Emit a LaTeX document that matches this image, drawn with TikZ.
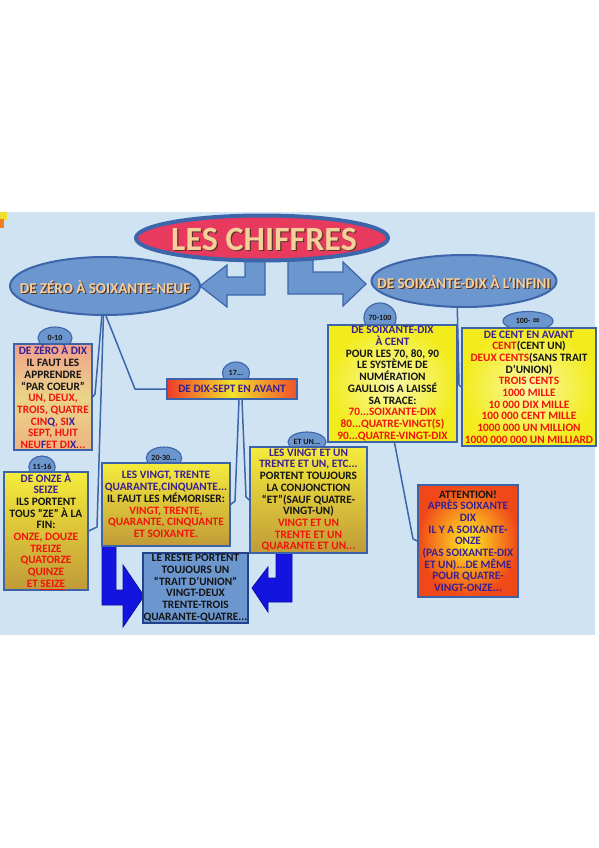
\documentclass[tikz,border=0pt]{standalone}
\usepackage{fontspec}
\setmainfont{Carlito}
\newfontfamily\symfont{DejaVu Sans}
\usetikzlibrary{shapes.geometric}
\definecolor{bgblue}{HTML}{CFE3F3}
\definecolor{ellfill}{HTML}{6B96CE}
\definecolor{ellline}{HTML}{3D65AA}
\definecolor{titlered}{HTML}{E8395E}
\definecolor{beige}{HTML}{F4D09A}
\definecolor{shadowbr}{HTML}{5A3424}
\definecolor{pur}{HTML}{3A2092}
\definecolor{redt}{HTML}{F0140C}
\definecolor{blk}{HTML}{141414}
\definecolor{arrblue}{HTML}{1414E0}
\definecolor{arrline}{HTML}{0C0CA8}
\definecolor{boxline}{HTML}{3D64A8}
\definecolor{cyel}{HTML}{F2E030}
\definecolor{corg}{HTML}{F08020}
\definecolor{aTop}{HTML}{F0A08C}
\definecolor{aMid}{HTML}{EAD488}
\definecolor{aBot}{HTML}{EEB482}
\definecolor{yTop}{HTML}{F5EC3C}
\definecolor{yBot}{HTML}{C09A38}
\definecolor{cLeft}{HTML}{F03C28}
\definecolor{cMid}{HTML}{F2E22A}
\definecolor{cRight}{HTML}{F0502A}
\definecolor{fIn}{HTML}{FAF8A8}
\definecolor{fOut}{HTML}{F2EC1C}
\definecolor{hIn}{HTML}{FFEC22}
\definecolor{hOut}{HTML}{F04818}
\definecolor{iLine}{HTML}{24428A}
\newcommand\cpu[1]{\textcolor{pur}{#1}}
\newcommand\cre[1]{\textcolor{redt}{#1}}
\tikzset{
  boxtext/.style={font=\fontsize{11.3}{11.7}\selectfont\bfseries, text=blk, align=center, inner sep=0pt},
  infobox/.style={boxtext, rectangle, draw=boxline, line width=1.4pt},
  tab/.style={ellipse, fill=ellfill, draw=ellline, line width=1.1pt, inner sep=0pt,
     font=\fontsize{8}{8}\selectfont\bfseries, text=blk},
  bigell/.style={ellipse, fill=ellfill, draw=ellline, line width=2pt, inner sep=0pt},
  conn/.style={draw=ellline, line width=1.5pt, line join=round},
  greyarrow/.style={fill=ellfill, draw=ellline, line width=1.2pt, line join=miter},
  bluearrow/.style={fill=arrblue, draw=arrline, line width=0.8pt},
  ellshadow/.style={font=\fontsize{15}{15}\selectfont\bfseries, text=shadowbr, inner sep=0pt},
  elltext/.style={font=\fontsize{15}{15}\selectfont\bfseries, text=beige, inner sep=0pt}
}
\begin{document}
\begin{tikzpicture}[x=1pt,y=-1pt]
\useasboundingbox (0,0) rectangle (599,848);
\fill[white] (0,0) rectangle (599,848);
\fill[bgblue] (0,212) rectangle (595,635);
\fill[cyel] (0,212) rectangle (7,220);
\fill[corg] (0,219) rectangle (4,228);

% grey-blue arrows from the title
\draw[greyarrow] (245,250) -- (265,250) -- (265,295) -- (227,295) -- (227,307) -- (200,286) -- (227,265) -- (227,277) -- (245,277) -- cycle;
\draw[greyarrow] (288,250) -- (313,250) -- (313,272) -- (343,272) -- (343,262) -- (366,284) -- (343,306) -- (343,294) -- (288,294) -- cycle;

% title
\node[ellipse, fill=titlered, draw=ellline, line width=4pt, minimum width=252pt, minimum height=45pt, inner sep=0pt] (title) at (262,238) {};
\node[font=\fontsize{34}{34}\selectfont\bfseries, text=shadowbr, inner sep=0pt] at (265.2,240.2) {LES CHIFFRES};
\node[font=\fontsize{34}{34}\selectfont\bfseries, text=beige, inner sep=0pt] (titletext) at (264,239) {LES CHIFFRES};

% big ellipses
\node[bigell, minimum width=190pt, minimum height=58pt] (lell) at (105,286) {};
\node[ellshadow] at (106.2,288.2) {DE ZÉRO À SOIXANTE-NEUF};
\node[elltext] (lelltext) at (105,287) {DE ZÉRO À SOIXANTE-NEUF};
\node[bigell, minimum width=185pt, minimum height=52pt] (rell) at (464,281) {};
\node[ellshadow] at (465.2,283.2) {DE SOIXANTE-DIX À L’INFINI};
\node[elltext] (relltext) at (464,282) {DE SOIXANTE-DIX À L’INFINI};

% tabs
\node[tab, minimum width=34pt, minimum height=22pt] (t010) at (55,338) {0-10};
\node[tab, minimum width=26pt, minimum height=22pt] (t1116) at (42,467) {11-16};
\node[tab, minimum width=27pt, minimum height=22pt] (t17) at (236,373) {17...};
\node[tab, minimum width=34pt, minimum height=22pt] (t2030) at (164,458) {20-30...};
\node[tab, minimum width=38pt, minimum height=20pt] (tetun) at (307,442) {ET UN...};
\node[tab, minimum width=32pt, minimum height=30pt] (t70) at (380,318) {70-100};
\node[tab, minimum width=50pt, minimum height=19pt] (t100) at (528,321) {100- {\symfont\fontsize{9.5}{9.5}\selectfont ∞}};

% blue arrows
\draw[bluearrow] (102,540) -- (116,540) -- (116,590) -- (123,590) -- (123,565) -- (144,596) -- (123,627) -- (123,605) -- (102,605) -- cycle;
\draw[bluearrow] (276,548) -- (292,548) -- (292,602) -- (268,602) -- (268,612) -- (252,588) -- (268,567) -- (268,578) -- (276,578) -- cycle;

% boxes
\node[infobox, top color=aTop, bottom color=aBot, middle color=aMid, minimum width=78pt, minimum height=106pt] (boxA) at (53,397)
 {\cpu{DE ZÉRO À DIX}\\ IL FAUT LES\\ APPRENDRE\\ “PAR COEUR”\\ \cre{UN, DEUX,}\\ \cre{TROIS, QUATRE}\\ \cre{CIN}\cpu{Q}\cre{, SI}\cpu{X}\\ \cre{SEPT, HUIT}\\ \cre{NEU}\cpu{F}\cre{ ET DI}\cpu{X}\cre{...}};
\node[infobox, top color=yTop, bottom color=yBot, minimum width=84pt, minimum height=118pt] (boxB) at (46,531)
 {\cpu{DE ONZE À}\\ \cpu{SEIZE}\\ ILS PORTENT\\ TOUS “ZE” À LA\\ FIN:\\ \cre{ONZE, DOUZE}\\ \cre{TREIZE}\\ \cre{QUATORZE}\\ \cre{QUINZE}\\ \cre{ET \underline{SEIZE}}};
\node[infobox, left color=cLeft, right color=cRight, middle color=cMid, minimum width=130pt, minimum height=20pt] (boxC) at (232,389)
 {\cpu{DE DIX-SEPT EN AVANT}};
\node[infobox, top color=yTop, bottom color=yBot, minimum width=128pt, minimum height=83pt] (boxD) at (166,504.5)
 {\cpu{LES VINGT, TRENTE}\\ \cpu{QUARANTE,CINQUANTE...}\\ IL FAUT LES MÉMORISER:\\ \cre{VINGT, TRENTE,}\\ \cre{QUARANTE, CINQUANTE}\\ \cre{ET SOIXANTE.}};
\node[infobox, top color=yTop, bottom color=yBot, minimum width=117pt, minimum height=106pt] (boxE) at (308.5,500)
 {\cpu{LES VINGT ET UN}\\ \cpu{TRENTE ET UN, ETC...}\\ PORTENT TOUJOURS\\ LA CONJONCTION\\ “ET”(SAUF QUATRE-\\ VINGT-UN)\\ \cre{VINGT ET UN}\\ \cre{TRENTE ET UN}\\ \cre{QUARANTE ET UN...}};
\node[infobox, inner color=fIn, outer color=fOut, minimum width=129pt, minimum height=117pt] (boxF) at (392.5,383.5)
 {\cpu{DE SOIXANTE-DIX}\\ \cpu{À CENT}\\ POUR LES 70, 80, 90\\ LE SYSTÈME DE\\ NUMÉRATION\\ GAULLOIS A LAISSÉ\\ SA TRACE:\\ \cre{70...SOIXANTE-DIX}\\ \cre{80...QUATRE-VINGT(S)}\\ \cre{90...QUATRE-VINGT-DIX}};
\node[infobox, inner color=fIn, outer color=fOut, minimum width=134pt, minimum height=118pt] (boxG) at (529,387)
 {\cpu{DE CENT EN AVANT}\\ \cre{CENT}(CENT UN)\\ \cre{DEUX CENTS}(SANS TRAIT\\ D’UNION)\\ \cre{TROIS CENTS}\\ \cre{1000 MILLE}\\ \cre{10 000 DIX MILLE}\\ \cre{100 000 CENT MILLE}\\ \cre{1000 000 UN MILLION}\\ \cre{1000 000 000 UN MILLIARD}};
\node[infobox, inner color=hIn, outer color=hOut, minimum width=100pt, minimum height=112pt] (boxH) at (468,541)
 {ATTENTION!\\ \cpu{APRÈS SOIXANTE}\\ \cpu{DIX}\\ \cpu{IL Y A SOIXANTE-}\\ \cpu{ONZE}\\ \cpu{(PAS SOIXANTE-DIX}\\ \cpu{ET UN)...DE MÊME}\\ \cpu{POUR QUATRE-}\\ \cpu{VINGT-ONZE...}};
\node[infobox, fill=ellfill, draw=iLine, minimum width=105pt, minimum height=70pt] (boxI) at (195.5,588)
 {LE RESTE PORTENT\\ TOUJOURS UN\\ “TRAIT D’UNION”\\ VINGT-DEUX\\ TRENTE-TROIS\\ QUARANTE-QUATRE...};

% connector bend points
\coordinate (pa) at (95,394);
\coordinate (pb) at (97,527);
\coordinate (pc) at (135,389);
\coordinate (pd) at (235,501);
\coordinate (pe) at (246,497);
\coordinate (pg) at (459,385);
\coordinate (ph) at (413,539);

% connectors
\draw[conn] (lell.264) -- (pa) -- (boxA.east);
\draw[conn] (lell.267) -- (pb) -- (boxB.east);
\draw[conn] (lell.272) -- (pc) -- (boxC.west);
\draw[conn] ([xshift=7pt]boxC.south) -- (pd) -- (boxD.east);
\draw[conn] ([xshift=10pt]boxC.south) -- (pe) -- (boxE.west);
\draw[conn] (rell.256) -- (pg) -- (boxG.west);
\draw[conn] ([xshift=2pt]boxF.south) -- (ph) -- (boxH.west);
\end{tikzpicture}
\end{document}
